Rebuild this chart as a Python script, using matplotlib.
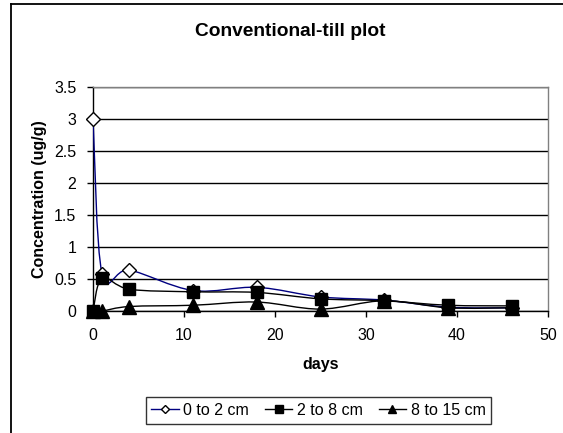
import matplotlib
matplotlib.use("Agg")
import matplotlib.pyplot as plt
import numpy as np
from matplotlib.path import Path
from matplotlib.patches import PathPatch
from matplotlib.lines import Line2D
from matplotlib.ticker import FuncFormatter, MultipleLocator

plt.rcParams['font.family'] = ['Liberation Sans', 'DejaVu Sans']

days = [0, 1, 4, 11, 18, 25, 32, 39, 46]
s_0_2 = [3.0, 0.58, 0.64, 0.32, 0.37, 0.22, 0.17, 0.06, 0.05]
s_2_8 = [0.0, 0.51, 0.34, 0.30, 0.29, 0.19, 0.16, 0.09, 0.08]
s_8_15 = [0.0, 0.0, 0.07, 0.09, 0.14, 0.03, 0.16, 0.05, 0.05]
labels = ['0 to 2 cm', '2 to 8 cm', '8 to 15 cm']
title = 'Conventional-till plot'
xlabel = 'days'
ylabel = 'Concentration (ug/g)'

W, H = 563, 433
fig = plt.figure(figsize=(W / 100, H / 100), dpi=100)
L, R, T, B = 93, 548, 87, 311
ax = fig.add_axes([L / W, 1 - B / H, (R - L) / W, (B - T) / H])


def smooth_path(x, y):
    x = np.asarray(x, float)
    y = np.asarray(y, float)
    P = np.column_stack([x, y])
    n = len(P)
    verts = [P[0]]
    codes = [Path.MOVETO]
    for i in range(n - 1):
        p0 = P[i - 1] if i > 0 else P[i]
        p1 = P[i]
        p2 = P[i + 1]
        p3 = P[i + 2] if i + 2 < n else P[i + 1]
        c1 = p1 + (p2 - p0) / 6.0
        c2 = p2 - (p3 - p1) / 6.0
        verts += [c1, c2, p2]
        codes += [Path.CURVE4] * 3
    return Path(verts, codes)


styles = [
    dict(color='#000080', marker='D', ms=6.8, mfc='white', mec='black'),
    dict(color='black', marker='s', ms=8.6, mfc='black', mec='black'),
    dict(color='black', marker='^', ms=9.4, mfc='black', mec='black'),
]
series = [s_0_2, s_2_8, s_8_15]
handles = []
for vals, st, lab in zip(series, styles, labels):
    patch = PathPatch(smooth_path(days, vals), facecolor='none',
                      edgecolor=st['color'], lw=1.0, zorder=3)
    ax.add_patch(patch)
    ax.plot(days, vals, linestyle='none', marker=st['marker'], ms=st['ms'],
            mfc=st['mfc'], mec=st['mec'], mew=1.0, zorder=4, clip_on=False)
    handles.append(Line2D([], [], color=st['color'], lw=1.0,
                          marker=st['marker'], ms=st['ms'] * 0.6,
                          mfc=st['mfc'], mec=st['mec'], mew=1.0, label=lab))

ax.set_xlim(0, 50)
ax.set_ylim(0, 3.5)
ax.xaxis.set_major_locator(MultipleLocator(10))
ax.yaxis.set_major_locator(MultipleLocator(0.5))
ax.yaxis.set_major_formatter(FuncFormatter(lambda v, p: '%g' % v))
ax.grid(axis='y', color='black', lw=1.0, zorder=1)
ax.set_axisbelow(True)
ax.tick_params(axis='both', direction='out', length=4, width=1,
               labelsize=11.5, color='black')
ax.tick_params(axis='x', pad=8)
ax.tick_params(axis='y', pad=8)
for s in ['top', 'right']:
    ax.spines[s].set_color('#808080')
    ax.spines[s].set_linewidth(1.0)
for s in ['left', 'bottom']:
    ax.spines[s].set_color('black')
    ax.spines[s].set_linewidth(1.0)

ax.set_xlabel(xlabel, fontsize=11.5, fontweight='bold', va='center')
ax.xaxis.set_label_coords(0.5, (B - 365) / (B - T))
ax.set_ylabel(ylabel, fontsize=11.5, fontweight='bold', va='center')
ax.yaxis.set_label_coords((40 - L) / (R - L), 0.5)

fig.text(290 / W, 1 - 31 / H, title, fontsize=13.8, fontweight='bold',
         ha='center', va='center')

leg = fig.legend(handles=handles, loc='center', ncol=3,
                 bbox_to_anchor=(318.5 / W, 1 - 410.5 / H),
                 fontsize=11.5, frameon=True, fancybox=False,
                 handlelength=1.7, handletextpad=0.3, columnspacing=1.0,
                 borderpad=0.35)
leg.get_frame().set_edgecolor('black')
leg.get_frame().set_linewidth(1.0)

# chart-area border (left and top visible)
fig.add_artist(Line2D([10.5 / W, 10.5 / W], [0, 1 - 4 / H], color='black',
                      lw=1.3, transform=fig.transFigure))
fig.add_artist(Line2D([10.5 / W, 1], [1 - 4 / H, 1 - 4 / H], color='black',
                      lw=1.3, transform=fig.transFigure))

fig.savefig('out.png', dpi=100)
